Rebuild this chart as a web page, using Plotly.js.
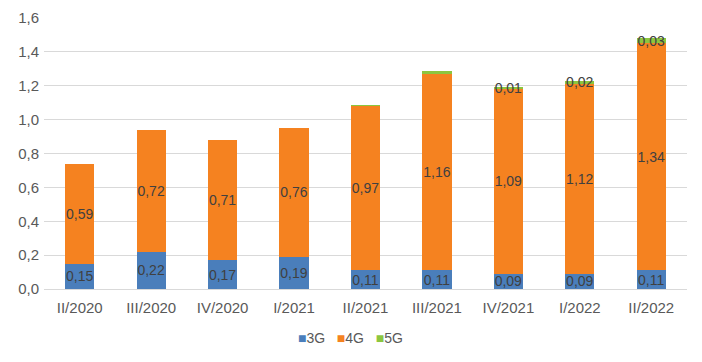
<!DOCTYPE html>
<html><head><meta charset="utf-8">
<script src="https://cdn.plot.ly/plotly-3.0.1.min.js"></script>
<style>html,body{margin:0;padding:0;background:#fff}#c{width:702px;height:362px}</style>
</head><body><div id="c"></div>
<script>
const categories = ['II/2020','III/2020','IV/2020','I/2021','II/2021','III/2021','IV/2021','I/2022','II/2022'];
const g3 = [0.15,0.22,0.17,0.19,0.11,0.11,0.09,0.09,0.11];
const g4 = [0.59,0.72,0.71,0.76,0.97,1.16,1.09,1.12,1.34];
const g5 = [0,0,0,0,0.008,0.015,0.01,0.02,0.03];
const g5Labelled = [false,false,false,false,false,false,true,true,true];
const seriesNames = ['3G','4G','5G'];
const seriesColors = ['#4a7ebb','#f58220','#8cc63f'];

const labelFont = {family:'Liberation Sans, Arial, sans-serif', size:14, color:'#404040'};
const common = {type:'bar', x:categories, texttemplate:'%{y:.2f}', textposition:'inside',
  insidetextanchor:'middle', constraintext:'none', textangle:0, textfont:labelFont, hoverinfo:'skip'};
const data = [
  Object.assign({}, common, {name:seriesNames[0], y:g3, marker:{color:seriesColors[0]}}),
  Object.assign({}, common, {name:seriesNames[1], y:g4, marker:{color:seriesColors[1]}}),
  Object.assign({}, common, {name:seriesNames[2], y:g5, marker:{color:seriesColors[2]},
    texttemplate:g5Labelled.map(v => v ? '%{y:.2f}' : '')})
];
const legendText = seriesNames.map((n,i) => '<span style="color:' + seriesColors[i] + '">■</span>' + n)
  .join('&nbsp;&nbsp;&nbsp;');
const layout = {
  width:702, height:362, barmode:'stack', bargap:0.59,
  separators:',.',
  margin:{l:44, r:15, t:18, b:73, autoexpand:false},
  paper_bgcolor:'#fff', plot_bgcolor:'#fff',
  font:{family:'Liberation Sans, Arial, sans-serif', size:14, color:'#595959'},
  xaxis:{showgrid:false, ticks:'', showline:false, automargin:false, tickfont:{size:15, color:'#595959'}, ticklabelstandoff:8},
  yaxis:{range:[0,1.6], dtick:0.2, tickformat:'.1f', gridcolor:'#d9d9d9', zeroline:true, automargin:false,
    zerolinecolor:'#d9d9d9', showline:false, ticks:'', tickfont:{size:15, color:'#595959'}, ticklabelstandoff:4},
  showlegend:false,
  annotations:[{xref:'paper', yref:'paper', x:0.477, y:-0.181, xanchor:'center', yanchor:'middle',
    showarrow:false, text:legendText, font:{size:14, color:'#595959'}}]
};
Plotly.newPlot('c', data, layout, {displayModeBar:false, staticPlot:true});
</script></body></html>
